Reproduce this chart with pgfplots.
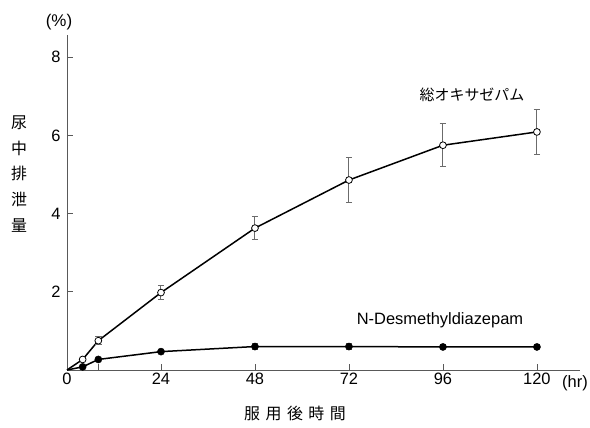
\documentclass[border=0pt]{standalone}
\usepackage{fontspec}
\setmainfont{Liberation Sans}
\newfontfamily\cjk{Noto Sans CJK JP}
\usepackage{pgfplots}
\pgfplotsset{compat=1.18}
\definecolor{axgray}{gray}{0.35}
\definecolor{errgray}{gray}{0.42}
\begin{document}
\begin{tikzpicture}
\begin{axis}[
  at={(0,0)}, anchor=south west,
  scale only axis, width=513bp, height=335bp,
  xmin=0, xmax=131, ymin=0, ymax=8.57,
  axis x line*=bottom, axis y line*=left,
  axis line style={-, draw=axgray, line width=0.8bp},
  xtick={0,24,48,72,96,120},
  extra x ticks={8}, extra x tick labels={},
  ytick={2,4,6,8},
  tick align=inside, major tick length=6bp,
  tick style={axgray, line width=0.7bp},
  ticklabel style={font=\fontsize{16.5}{18}\selectfont},
  /pgf/number format/assume math mode=true,
  yticklabel style={xshift=-3bp},
  clip=false,
]
% lines
\addplot[black, line width=1.5bp] coordinates {(0,0) (4,0.27) (8,0.75) (24,1.98) (48,3.63) (72,4.86) (96,5.75) (120,6.09)};
\addplot[black, line width=1.5bp] coordinates {(0,0) (4,0.08) (8,0.27) (24,0.47) (48,0.60) (72,0.60) (96,0.59) (120,0.59)};
% total oxazepam: open circles
\addplot[only marks, mark=*, mark size=3.4bp, mark options={fill=white, draw=black, line width=0.8bp},
  error bars/.cd, y dir=both, y explicit,
  error bar style={errgray, line width=1bp},
  error mark options={rotate=90, errgray, mark size=3.2bp, line width=1bp}]
  coordinates {(4,0.27) +- (0,0) (8,0.75) +- (0,0.1) (24,1.98) +- (0,0.18) (48,3.63) +- (0,0.3) (72,4.86) +- (0,0.58) (96,5.75) +- (0,0.55) (120,6.09) +- (0,0.57)};
% N-desmethyldiazepam: filled circles
\addplot[only marks, mark=*, mark size=3.6bp, mark options={fill=black, draw=black},
  error bars/.cd, y dir=both, y explicit,
  error bar style={errgray, line width=1bp},
  error mark options={rotate=90, errgray, mark size=3.2bp, line width=1bp}]
  coordinates {(4,0.08) +- (0,0) (8,0.27) +- (0,0) (24,0.47) +- (0,0) (48,0.60) +- (0,0.07) (72,0.60) +- (0,0.07) (96,0.59) +- (0,0.05) (120,0.59) +- (0,0.05)};
\end{axis}
\node[font=\fontsize{17}{18}\selectfont] at (-8bp,348bp) {(\%)};
\node[font=\fontsize{16.5}{18}\selectfont, anchor=base west, inner sep=0pt] at (495bp,-17.3bp) {(hr)};
\node[align=center, font=\cjk\fontsize{16}{25.8}\selectfont] at (-48bp,196bp) {尿\\中\\排\\泄\\量};
\node[font=\cjk\fontsize{16}{18}\selectfont] at (228bp,-43bp) {服\hspace{5.5bp}用\hspace{5.5bp}後\hspace{5.5bp}時\hspace{5.5bp}間};
\node[font=\cjk\fontsize{15}{18}\selectfont] at (405bp,275bp) {総オキサゼパム};
\node[font=\fontsize{16.5}{18}\selectfont] at (373bp,50bp) {N-Desmethyldiazepam};
\pgfresetboundingbox
\path[use as bounding box] (-67bp,-58bp) rectangle (523bp,370bp);
\end{tikzpicture}
\end{document}
